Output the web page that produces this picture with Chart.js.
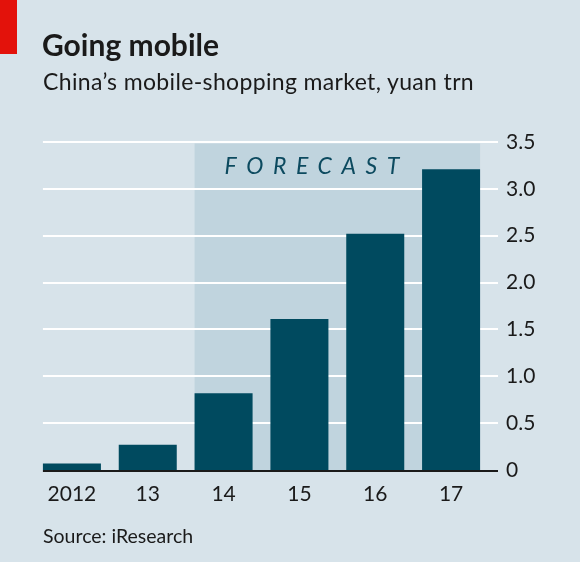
<!DOCTYPE html>
<html>
<head>
<meta charset="utf-8">
<script src="https://cdn.jsdelivr.net/npm/chart.js@4"></script>
<style>
  html, body { margin: 0; padding: 0; background: #d7e3ea; }
  #wrap { position: relative; width: 580px; height: 562px; overflow: hidden; }
  #myChart { position: absolute; left: 0; top: 0; }
  .tag { position: absolute; left: 0; top: 0; width: 17px; height: 54px; background: #e3120b; }
  .title { position: absolute; left: 42px; top: 26px; font: bold 30px Lato, sans-serif; color: #1a1a1a; }
  .sub { position: absolute; left: 43px; top: 67px; font: 23px Lato, sans-serif; letter-spacing: 0.35px; color: #1a1a1a; }
  .src { position: absolute; left: 43px; top: 524px; font: 19.5px Lato, sans-serif; color: #1a1a1a; }
</style>
</head>
<body>
<div id="wrap">
  <canvas id="myChart" width="580" height="562"></canvas>
  <div class="tag"></div>
  <div class="title">Going mobile</div>
  <div class="sub">China’s mobile-shopping market, yuan trn</div>
  <div class="src">Source: iResearch</div>
</div>
<script>
const years = ['2012', '13', '14', '15', '16', '17'];
const market = [0.07, 0.27, 0.82, 1.61, 2.52, 3.21];
const yTicks = [0, 0.5, 1, 1.5, 2, 2.5, 3, 3.5];
const forecastFrom = 2; // index of first forecast year

const ctx = document.getElementById('myChart').getContext('2d');

const backdrop = {
  id: 'backdrop',
  beforeDatasetsDraw(chart) {
    const { ctx, chartArea, scales } = chart;
    const bars = chart.getDatasetMeta(0).data;
    const half = bars[0].width / 2;
    const left = bars[0].x - half;
    const right = chartArea.right + 9;

    // forecast shading
    const fx0 = bars[forecastFrom].x - half;
    const fx1 = bars[bars.length - 1].x + half;
    const top = scales.y.getPixelForValue(3.5) + 1.5;
    const bottom = scales.y.getPixelForValue(0);
    ctx.save();
    ctx.fillStyle = '#c0d4de';
    ctx.fillRect(fx0, top, fx1 - fx0, bottom - top);

    // white gridlines
    ctx.strokeStyle = '#ffffff';
    ctx.lineWidth = 2;
    yTicks.slice(1).forEach(v => {
      const y = Math.round(scales.y.getPixelForValue(v));
      ctx.beginPath();
      ctx.moveTo(left, y);
      ctx.lineTo(right, y);
      ctx.stroke();
    });

    // forecast label
    ctx.fillStyle = '#0c4a5f';
    ctx.font = 'italic 23px Lato, sans-serif';
    ctx.textBaseline = 'middle';
    ctx.textAlign = 'left';
    ctx.letterSpacing = '9.6px';
    const midY = (scales.y.getPixelForValue(3.5) + scales.y.getPixelForValue(3)) / 2 + 1;
    ctx.fillText('FORECAST', fx0 + 30, midY);
    ctx.restore();
  },
  afterDatasetsDraw(chart) {
    const { ctx, chartArea, scales } = chart;
    const bars = chart.getDatasetMeta(0).data;
    const left = bars[0].x - bars[0].width / 2;
    const y = scales.y.getPixelForValue(0) + 1;
    ctx.save();
    ctx.strokeStyle = '#1a1a1a';
    ctx.lineWidth = 2;
    ctx.beginPath();
    ctx.moveTo(left, y);
    ctx.lineTo(chartArea.right + 9, y);
    ctx.stroke();
    ctx.restore();
  }
};

new Chart(ctx, {
  type: 'bar',
  data: {
    labels: years,
    datasets: [{
      data: market,
      backgroundColor: '#004a5f',
      borderWidth: 0,
      barPercentage: 0.765,
      categoryPercentage: 1
    }]
  },
  options: {
    responsive: false,
    animation: false,
    layout: { padding: { left: 34, top: 142, right: 0, bottom: 0 } },
    scales: {
      x: {
        grid: { display: false, drawTicks: false },
        border: { display: false },
        ticks: {
          color: '#1a1a1a',
          font: { family: 'Lato', size: 21 },
          padding: 12,
          maxRotation: 0
        },
        afterFit(scale) { scale.height = 92; }
      },
      y: {
        position: 'right',
        min: 0,
        max: 3.5,
        grid: { display: false, drawTicks: false },
        border: { display: false },
        afterBuildTicks(scale) { scale.ticks = yTicks.map(v => ({ value: v })); },
        ticks: {
          color: '#1a1a1a',
          font: { family: 'Lato', size: 21 },
          padding: 17,
          callback: v => v === 0 ? '0' : v.toFixed(1)
        },
        afterFit(scale) { scale.width = 91; }
      }
    },
    plugins: {
      legend: { display: false },
      tooltip: { enabled: false }
    }
  },
  plugins: [backdrop]
});
</script>
</body>
</html>
